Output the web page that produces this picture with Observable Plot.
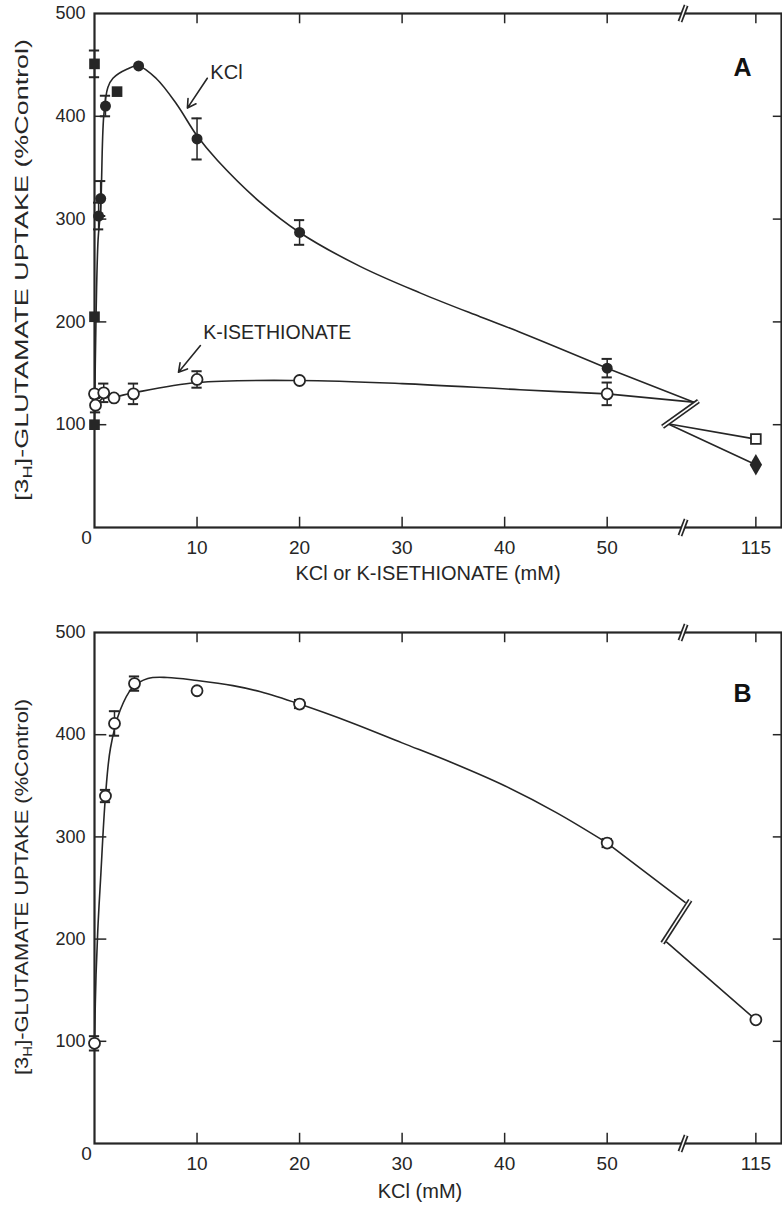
<!DOCTYPE html>
<html><head><meta charset="utf-8">
<script src="https://cdn.jsdelivr.net/npm/d3@7"></script>
<script src="https://cdn.jsdelivr.net/npm/@observablehq/plot@0.6"></script>
<style>
body{margin:0;background:#fff;}
#chart svg{display:block;}
</style></head><body><div id="chart"></div>
<script>
// ---------- axis ticks ----------
const xTickValues = [10, 20, 30, 40, 50, 115];
const xTickLabels = ["10", "20", "30", "40", "50", "115"];
const yTickValues = [100, 200, 300, 400, 500];

// ---------- Panel A : KCl (filled circles; 115 mM = filled diamond) ----------
const kclA_x   = [0.4, 0.6, 1.07, 4.3, 10, 20, 50, 115];
const kclA_y   = [303, 320, 410, 449, 378, 287, 155, 61];
const kclA_err = [13, 17, 10, 0, 20, 12, 9, 0];
// Panel A : filled squares
const sqA_x   = [0, 0, 0, 2.2];
const sqA_y   = [100, 205, 451, 424];
const sqA_err = [0, 0, 13, 0];
// Panel A : K-ISETHIONATE (open circles; 115 mM = open square)
const isoA_x   = [0, 0.1, 0.9, 1.9, 3.8, 10, 20, 50, 115];
const isoA_y   = [130, 119, 131, 126, 130, 144, 143, 130, 86];
const isoA_err = [0, 7, 9, 0, 10, 8, 0, 11, 0];
// Panel A fitted curves
const kclCurveA_x = [0, 0.15, 0.35, 0.6, 0.9, 1.3, 1.8, 3.2, 4.3, 6, 8, 10, 12, 16.2, 20, 25.9, 31.8, 37.6, 41.5, 50];
const kclCurveA_y = [100, 205, 280, 310, 400, 428, 437, 446, 449, 437, 412, 381, 357, 316, 287, 254, 228, 205, 190, 155];
const isoCurveA_x = [0, 0.9, 1.9, 3.8, 10, 20, 30, 41.5, 50];
const isoCurveA_y = [118, 126, 127, 131, 141, 143, 140, 134, 130];
// Panel A axis-break (in axis units)
const breakA_x = [55.4, 58.9];
const breakA_y = [98, 123];

// ---------- Panel B : KCl (open circles) ----------
const kclB_x   = [0, 1.07, 1.95, 3.9, 10, 20, 50, 115];
const kclB_y   = [98, 340, 411, 450, 443, 430, 294, 121];
const kclB_err = [7, 6, 12, 7, 0, 4, 4, 0];
const kclCurveB_x = [0, 0.15, 0.35, 0.6, 1.07, 1.56, 2.5, 3.7, 5.2, 7.1, 10, 13.5, 16.2, 20, 25, 30, 35, 40, 45, 50];
const kclCurveB_y = [98, 165, 215, 260, 340, 387, 424, 446, 455, 456, 453, 448, 442, 430, 412, 392, 372, 350, 324, 294];
const breakB_x = [55.4, 58.1];
const breakB_y = [196, 238];

// ---------- labels ----------
const yTitleParts = ["[3", "H", "]-GLUTAMATE UPTAKE (%Control)"];
const xTitleA = "KCl or K-ISETHIONATE (mM)";
const xTitleB = "KCl (mM)";
const tagA = "A", tagB = "B";
const annoKCl = {text: "KCl", x: 11.3, y: 443, ax1: 11.0, ay1: 437, ax2: 9.06, ay2: 408};
const annoIso = {text: "K-ISETHIONATE", x: 10.6, y: 189, ax1: 10.33, ay1: 177, ax2: 8.19, ay2: 151};

// ---------- helpers ----------
const INK = "#262626";
const X_MAX = 67;
const X_POS_115 = 64.5;           // position of "115" on the broken axis
const X_AXIS_BREAK = 57.4;        // position of the "//" on the axis
const pos = x => x > 60 ? X_POS_115 : x;
const rows = (xs, ys, es) => xs.map((x, i) => ({x: pos(x), y: ys[i], e: es ? es[i] : 0}));
const pts = (xs, ys) => xs.map((x, i) => ({x, y: ys[i]}));

function errorMarks(data) {
  const d = data.filter(r => r.e > 0);
  const caps = d.flatMap(r => [{x: r.x, y: r.y - r.e}, {x: r.x, y: r.y + r.e}]);
  return [
    Plot.ruleX(d, {x: "x", y1: r => r.y - r.e, y2: r => r.y + r.e, stroke: INK, strokeWidth: 1.5}),
    Plot.ruleY(caps, {y: "y", x1: r => r.x - 0.5, x2: r => r.x + 0.5, stroke: INK, strokeWidth: 2})
  ];
}

function tube(seg) {
  return [
    Plot.line(seg, {x: "x", y: "y", stroke: INK, strokeWidth: 5, strokeLinecap: "butt"}),
    Plot.line(seg, {x: "x", y: "y", stroke: "white", strokeWidth: 1.6, strokeLinecap: "butt"})
  ];
}

function frameMarks() {
  const xt = xTickValues.map(pos);
  const inner = [100, 200, 300, 400];
  const axBreakBottom = [{x: X_AXIS_BREAK - 0.3, y: -8}, {x: X_AXIS_BREAK + 0.3, y: 8}];
  const axBreakTop = [{x: X_AXIS_BREAK - 0.3, y: 492}, {x: X_AXIS_BREAK + 0.3, y: 508}];
  return [
    Plot.frame({stroke: INK, strokeWidth: 2.2}),
    Plot.ruleY(inner, {x1: 0, x2: 1.2, stroke: INK, strokeWidth: 1.5}),
    Plot.ruleY(inner, {x1: X_MAX - 0.8, x2: X_MAX, stroke: INK, strokeWidth: 1.5}),
    Plot.ruleX(xt, {y1: 0, y2: 10, stroke: INK, strokeWidth: 1.5}),
    Plot.ruleX(xt, {y1: 490, y2: 500, stroke: INK, strokeWidth: 1.5}),
    ...tube(axBreakBottom), ...tube(axBreakTop),
    Plot.axisY(yTickValues, {tickSize: 0, tickPadding: 9, fontSize: 18, fill: INK, label: null}),
    Plot.axisX(xt, {tickSize: 0, tickPadding: 13, fontSize: 19, fill: INK, label: null,
      fontFamily: "'Liberation Sans Narrow', 'Liberation Sans', Arial, sans-serif",
      tickFormat: d => xTickLabels[xt.indexOf(d)]}),
    Plot.text(["0"], {x: () => 0, y: () => 0, dx: -8, dy: 10, fontSize: 19, fill: INK,
      fontFamily: "'Liberation Sans Narrow', 'Liberation Sans', Arial, sans-serif"})
  ];
}

function makePlot({height, marginTop, marginBottom, marks}) {
  return Plot.plot({
    width: 782, height, marginTop, marginBottom, marginLeft: 94, marginRight: 1,
    x: {domain: [0, X_MAX]}, y: {domain: [0, 500]},
    style: {fontFamily: "'Liberation Sans', Arial, sans-serif", fontSize: "18px", color: INK, background: "white"},
    marks
  });
}

function addYLabel(svg, cx, cy, len) {
  const t = d3.select(svg).append("text")
    .attr("transform", `translate(${cx},${cy}) rotate(-90)`)
    .attr("text-anchor", "middle").attr("font-size", 19).attr("fill", INK)
    .attr("font-family", "'Liberation Sans', Arial, sans-serif")
    .attr("textLength", len).attr("lengthAdjust", "spacingAndGlyphs");
  t.append("tspan").text(yTitleParts[0]);
  t.append("tspan").attr("font-size", 13).attr("dy", 4).text(yTitleParts[1]);
  t.append("tspan").attr("dy", -4).text(yTitleParts[2]);
}

const LW = 1.6;
// ---------- Panel A ----------
const kclA = rows(kclA_x, kclA_y, kclA_err);
const sqA = rows(sqA_x, sqA_y, sqA_err);
const isoA = rows(isoA_x, isoA_y, isoA_err);
const brA = pts(breakA_x, breakA_y);
const brAUpper = {x: breakA_x[1] - 0.5, y: breakA_y[1] - 1};
const brALower = {x: breakA_x[0] + 0.5, y: breakA_y[0] + 3};
const kclA_last = kclA[kclA.length - 1], isoA_last = isoA[isoA.length - 1];
const kcl50A = kclA[kclA.length - 2], iso50A = isoA[isoA.length - 2];

const plotA = makePlot({
  height: 590, marginTop: 13, marginBottom: 63,
  marks: [
    ...frameMarks(),
    Plot.line(pts(kclCurveA_x, kclCurveA_y), {x: "x", y: "y", curve: "catmull-rom", stroke: INK, strokeWidth: LW}),
    Plot.line(pts(isoCurveA_x, isoCurveA_y), {x: "x", y: "y", curve: "catmull-rom", stroke: INK, strokeWidth: LW}),
    Plot.line([kcl50A, brAUpper], {x: "x", y: "y", stroke: INK, strokeWidth: LW}),
    Plot.line([iso50A, brAUpper], {x: "x", y: "y", stroke: INK, strokeWidth: LW}),
    Plot.line([brALower, kclA_last], {x: "x", y: "y", stroke: INK, strokeWidth: LW}),
    Plot.line([brALower, isoA_last], {x: "x", y: "y", stroke: INK, strokeWidth: LW}),
    ...tube(brA),
    ...errorMarks(kclA), ...errorMarks(sqA), ...errorMarks(isoA),
    Plot.dot(kclA.filter(d => d !== kclA_last), {x: "x", y: "y", r: 5.5, fill: INK}),
    Plot.dot([kclA_last], {x: "x", y: "y", r: 6.5, symbol: "diamond", fill: INK}),
    Plot.dot(sqA, {x: "x", y: "y", r: 6, symbol: "square", fill: INK}),
    Plot.dot(isoA.filter(d => d !== isoA_last), {x: "x", y: "y", r: 5.5, fill: "white", stroke: INK, strokeWidth: 1.8}),
    Plot.dot([isoA_last], {x: "x", y: "y", r: 5.5, symbol: "square", fill: "white", stroke: INK, strokeWidth: 1.8}),
    Plot.text([annoKCl], {x: "x", y: "y", text: "text", textAnchor: "start", fontSize: 20, fill: INK}),
    Plot.arrow([annoKCl], {x1: "ax1", y1: "ay1", x2: "ax2", y2: "ay2", stroke: INK, strokeWidth: 1.6, headLength: 9}),
    Plot.text([annoIso], {x: "x", y: "y", text: "text", textAnchor: "start", fontSize: 19.5, fill: INK}),
    Plot.arrow([annoIso], {x1: "ax1", y1: "ay1", x2: "ax2", y2: "ay2", stroke: INK, strokeWidth: 1.6, headLength: 9}),
    Plot.text([tagA], {x: () => 63.2, y: () => 447, fontSize: 25, fontWeight: "bold", fill: "#111"}),
    Plot.text([xTitleA], {frameAnchor: "bottom", dx: -10, dy: 52, fontSize: 20, fill: INK})
  ]
});
addYLabel(plotA, 28, 270, 462);

// ---------- Panel B ----------
const kclB = rows(kclB_x, kclB_y, kclB_err);
const kclB_last = kclB[kclB.length - 1], kcl50B = kclB[kclB.length - 2];
const brB = pts(breakB_x, breakB_y);
const brBUpper = {x: breakB_x[1] - 0.5, y: breakB_y[1] - 2};
const brBLower = {x: breakB_x[0] + 0.4, y: breakB_y[0] + 1};

const plotB = makePlot({
  height: 621, marginTop: 42, marginBottom: 68,
  marks: [
    ...frameMarks(),
    Plot.line(pts(kclCurveB_x, kclCurveB_y), {x: "x", y: "y", curve: "catmull-rom", stroke: INK, strokeWidth: LW}),
    Plot.line([kcl50B, brBUpper], {x: "x", y: "y", stroke: INK, strokeWidth: LW}),
    Plot.line([brBLower, kclB_last], {x: "x", y: "y", stroke: INK, strokeWidth: LW}),
    ...tube(brB),
    ...errorMarks(kclB),
    Plot.dot(kclB, {x: "x", y: "y", r: 5.5, fill: "white", stroke: INK, strokeWidth: 1.8}),
    Plot.text([tagB], {x: () => 63.2, y: () => 440, fontSize: 25, fontWeight: "bold", fill: "#111"}),
    Plot.text([xTitleB], {frameAnchor: "bottom", dx: -18, dy: 54, fontSize: 20, fill: INK,
      fontFamily: "'Liberation Sans Narrow', 'Liberation Sans', Arial, sans-serif"})
  ]
});
addYLabel(plotB, 28, 297, 376);

document.getElementById("chart").append(plotA, plotB);
</script></body></html>
